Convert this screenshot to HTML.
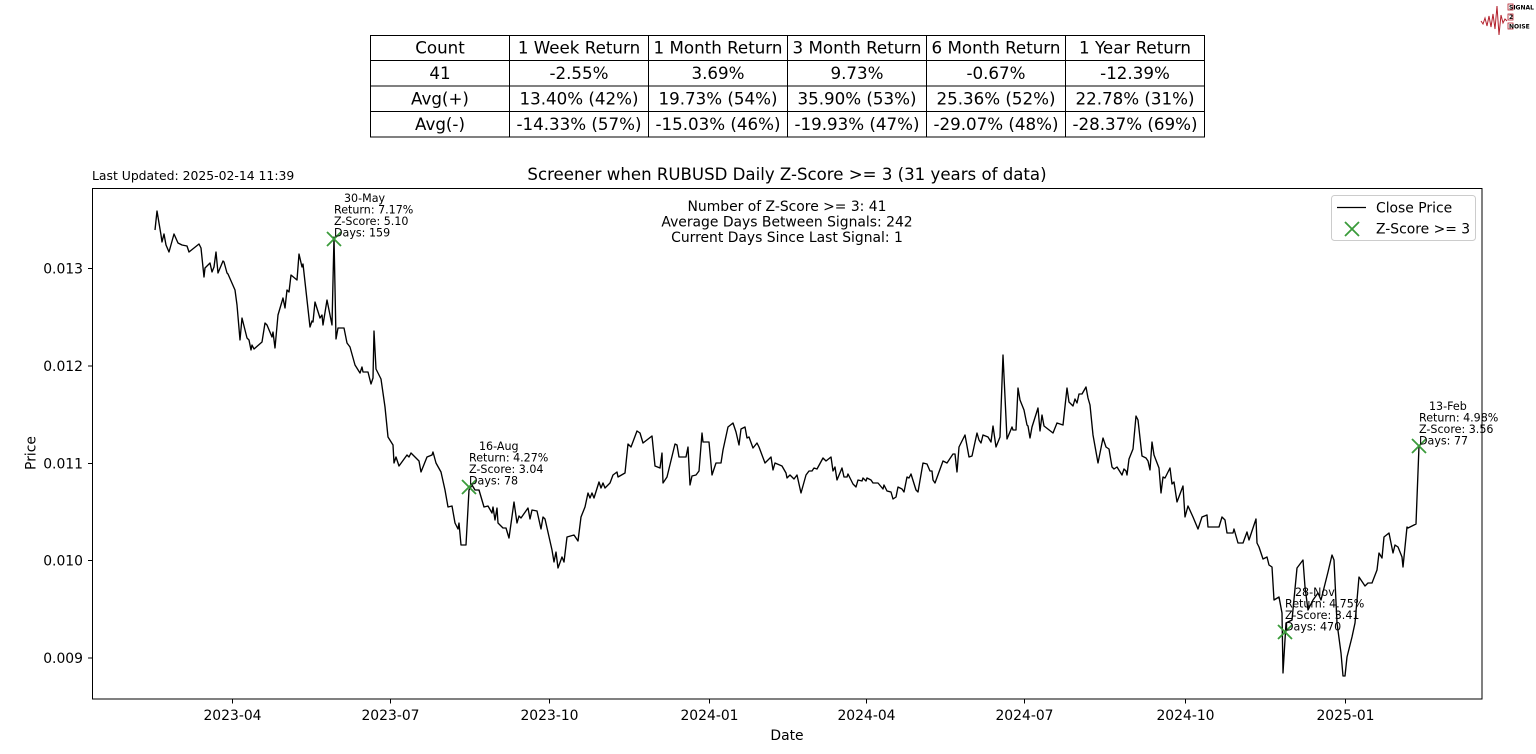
<!DOCTYPE html>
<html>
<head>
<meta charset="utf-8">
<style>
html,body{margin:0;padding:0;background:#fff;}
svg{display:block;}
text{font-family:"DejaVu Sans","Liberation Sans",sans-serif;fill:#000;}
</style>
</head>
<body>
<svg width="1536" height="754" viewBox="0 0 1536 754" xmlns="http://www.w3.org/2000/svg">
<rect x="0" y="0" width="1536" height="754" fill="#fff"/>

<!-- Logo -->
<polyline points="1481,21 1483,24 1485,18 1487,26 1489,16 1491,27 1493,14 1495,29 1497,6 1499,35 1501,15 1503,23 1505,19 1507,21" fill="none" stroke="#b3202c" stroke-width="1"/>
<rect x="1508" y="4" width="5" height="6" fill="none" stroke="#b3202c" stroke-width="0.8"/>
<rect x="1508" y="14" width="5" height="6" fill="none" stroke="#b3202c" stroke-width="0.8"/>
<rect x="1508" y="23" width="5" height="6" fill="none" stroke="#b3202c" stroke-width="0.8"/>
<text x="1509" y="9.5" font-size="6" font-weight="bold" fill="#333">SIGNAL</text>
<text x="1509" y="19" font-size="6" font-weight="bold" fill="#333">2</text>
<text x="1509" y="28.5" font-size="6" font-weight="bold" fill="#333">NOISE</text>

<!-- Table -->
<g stroke="#000" stroke-width="1" fill="none">
<rect x="370.5" y="35.5" width="834" height="101.5"/>
<line x1="370" y1="60.5" x2="1204" y2="60.5"/>
<line x1="370" y1="86" x2="1204" y2="86"/>
<line x1="370" y1="111.5" x2="1204" y2="111.5"/>
<line x1="509.5" y1="35" x2="509.5" y2="137"/>
<line x1="648.5" y1="35" x2="648.5" y2="137"/>
<line x1="787.5" y1="35" x2="787.5" y2="137"/>
<line x1="926.5" y1="35" x2="926.5" y2="137"/>
<line x1="1065.5" y1="35" x2="1065.5" y2="137"/>
</g>
<g font-size="16.7" text-anchor="middle">
<text x="440" y="53.5">Count</text>
<text x="579" y="53.5">1 Week Return</text>
<text x="718" y="53.5">1 Month Return</text>
<text x="857" y="53.5">3 Month Return</text>
<text x="996" y="53.5">6 Month Return</text>
<text x="1135" y="53.5">1 Year Return</text>
<text x="440" y="79">41</text>
<text x="579" y="79">-2.55%</text>
<text x="718" y="79">3.69%</text>
<text x="857" y="79">9.73%</text>
<text x="996" y="79">-0.67%</text>
<text x="1135" y="79">-12.39%</text>
<text x="440" y="104.5">Avg(+)</text>
<text x="579" y="104.5">13.40% (42%)</text>
<text x="718" y="104.5">19.73% (54%)</text>
<text x="857" y="104.5">35.90% (53%)</text>
<text x="996" y="104.5">25.36% (52%)</text>
<text x="1135" y="104.5">22.78% (31%)</text>
<text x="440" y="130">Avg(-)</text>
<text x="579" y="130">-14.33% (57%)</text>
<text x="718" y="130">-15.03% (46%)</text>
<text x="857" y="130">-19.93% (47%)</text>
<text x="996" y="130">-29.07% (48%)</text>
<text x="1135" y="130">-28.37% (69%)</text>
</g>

<!-- Titles -->
<text x="92" y="180" font-size="12.4">Last Updated: 2025-02-14 11:39</text>
<text x="787" y="180" font-size="16.6" text-anchor="middle">Screener when RUBUSD Daily Z-Score &gt;= 3 (31 years of data)</text>

<!-- Axes frame -->
<rect x="92.5" y="188.5" width="1389.5" height="510.5" fill="none" stroke="#000" stroke-width="1"/>

<!-- Y ticks -->
<g stroke="#000" stroke-width="1">
<line x1="88" y1="268.5" x2="92" y2="268.5"/>
<line x1="88" y1="366" x2="92" y2="366"/>
<line x1="88" y1="463.5" x2="92" y2="463.5"/>
<line x1="88" y1="560.5" x2="92" y2="560.5"/>
<line x1="88" y1="658" x2="92" y2="658"/>
</g>
<g font-size="13.9" text-anchor="end">
<text x="83" y="273.5">0.013</text>
<text x="83" y="371">0.012</text>
<text x="83" y="468.5">0.011</text>
<text x="83" y="565.5">0.010</text>
<text x="83" y="663">0.009</text>
</g>

<!-- X ticks -->
<g stroke="#000" stroke-width="1">
<line x1="232.5" y1="699" x2="232.5" y2="703.5"/>
<line x1="390.5" y1="699" x2="390.5" y2="703.5"/>
<line x1="549.5" y1="699" x2="549.5" y2="703.5"/>
<line x1="709.5" y1="699" x2="709.5" y2="703.5"/>
<line x1="866.5" y1="699" x2="866.5" y2="703.5"/>
<line x1="1024.5" y1="699" x2="1024.5" y2="703.5"/>
<line x1="1185.5" y1="699" x2="1185.5" y2="703.5"/>
<line x1="1345.5" y1="699" x2="1345.5" y2="703.5"/>
</g>
<g font-size="13.9" text-anchor="middle">
<text x="232.5" y="720">2023-04</text>
<text x="390.5" y="720">2023-07</text>
<text x="549.5" y="720">2023-10</text>
<text x="709.5" y="720">2024-01</text>
<text x="866.5" y="720">2024-04</text>
<text x="1024.5" y="720">2024-07</text>
<text x="1185.5" y="720">2024-10</text>
<text x="1345.5" y="720">2025-01</text>
</g>
<text x="787" y="740" font-size="13.9" text-anchor="middle">Date</text>
<text x="0" y="0" font-size="13.9" text-anchor="middle" transform="translate(35.5,453) rotate(-90)">Price</text>

<!-- Stats text -->
<g font-size="13.9" text-anchor="middle">
<text x="787" y="211">Number of Z-Score &gt;= 3: 41</text>
<text x="787" y="226.5">Average Days Between Signals: 242</text>
<text x="787" y="242">Current Days Since Last Signal: 1</text>
</g>

<!-- Price line -->
<polyline fill="none" stroke="#000" stroke-width="1.35" stroke-linejoin="round" points="
155,230 157,211 161,235 162,242 164,234 166,245 169,252 174,234 178,243 182,245 187,246 189,252 199,244 201,248 204,277 205,268 210,263 212,272 214,267 216,252 218,273 223,261 224,262 227,273 228,274 235,290 237,305 240,340 242,318 247,338 249,340 251,350 252,345 254,349 262,342 265,323 267,325 272,337 273,332 275,348 278,315 283,298 285,308 287,290 289,292 291,275 297,280 299,254 302,267 303,264 310,327 312,321 313,322 315,302 320,318 322,315 323,325 327,300 332,325 334,237 336,339 338,328 344,328 347,343 350,347 355,365 360,373 362,367 363,372 368,372 371,384 373,378 374,331 376,369 381,379 383,393 385,407 388,437 393,445 394,463 396,457 399,466 407,455 409,457 411,453 419,461 421,472 427,457 432,455 433,452 436,463 441,472 445,490 448,507 452,506 455,523 458,529 459,523 461,545 466,545 469,490 472,485 475,490 479,490 484,507 488,506 492,513 493,507 495,520 497,508 498,523 503,528 506,528 509,538 514,502 517,523 519,516 521,518 528,508 530,519 532,510 537,511 541,529 543,517 545,519 552,550 554,562 556,552 558,568 562,557 564,562 567,537 574,535 578,541 581,517 585,507 588,493 590,498 592,493 594,498 599,482 601,488 603,483 605,488 610,483 613,475 617,472 618,477 625,473 628,444 631,447 637,431 640,433 643,443 652,436 655,466 660,468 662,453 663,483 667,477 675,444 677,445 679,457 686,457 688,447 690,485 692,476 696,475 699,471 702,433 703,442 709,442 712,475 716,463 721,463 723,450 728,427 733,423 736,432 739,445 741,429 745,427 747,438 749,437 753,448 757,443 759,447 765,463 771,457 773,470 775,463 782,466 786,473 787,478 790,475 794,479 797,475 801,493 806,475 809,471 812,471 814,468 817,469 823,458 826,461 831,457 833,471 835,467 837,480 842,468 844,477 847,477 848,474 853,484 856,487 858,480 862,481 863,478 866,481 867,478 871,480 873,483 878,483 883,489 884,485 887,491 891,492 893,499 896,497 898,487 902,489 904,492 907,477 909,478 911,474 916,490 918,492 923,463 927,464 930,471 932,471 933,480 935,483 943,461 947,463 953,454 955,454 957,472 959,447 965,435 969,457 972,456 977,433 979,440 981,443 983,435 988,437 991,442 993,426 996,447 1000,437 1003,355 1007,439 1012,427 1013,430 1016,430 1018,388 1020,400 1024,410 1027,425 1028,426 1030,438 1032,427 1038,408 1040,431 1042,415 1044,426 1053,433 1057,423 1063,425 1067,388 1069,402 1073,406 1075,399 1077,403 1079,394 1082,394 1086,387 1088,398 1090,405 1093,435 1098,463 1103,438 1106,447 1109,449 1112,467 1114,469 1117,467 1122,475 1124,469 1126,471 1127,475 1129,459 1133,449 1136,416 1138,420 1139,429 1142,456 1146,458 1148,461 1150,470 1152,442 1154,455 1159,468 1161,493 1163,477 1165,478 1170,468 1172,484 1174,482 1177,502 1183,486 1185,517 1188,506 1193,517 1198,529 1202,517 1207,515 1208,527 1219,527 1222,517 1225,520 1227,533 1233,533 1234,529 1238,543 1243,543 1247,532 1249,540 1256,519 1257,543 1259,547 1263,559 1267,557 1269,565 1272,567 1274,600 1279,597 1282,613 1283,673 1286,623 1292,620 1297,568 1303,560 1305,587 1308,610 1313,600 1318,593 1321,600 1328,572 1332,555 1334,560 1337,623 1341,653 1343,676 1345,676 1347,657 1352,637 1355,623 1359,577 1365,586 1368,583 1372,583 1377,570 1379,553 1382,558 1384,537 1389,533 1393,553 1395,545 1398,547 1402,557 1403,567 1407,527 1408,528 1416,524 1419,446"/>

<!-- Markers -->
<g stroke="#3a9b3a" stroke-width="1.8">
<path d="M327,232 L341,246 M341,232 L327,246"/>
<path d="M462,480 L476,494 M476,480 L462,494"/>
<path d="M1278,625 L1292,639 M1292,625 L1278,639"/>
<path d="M1412,439 L1426,453 M1426,439 L1412,453"/>
</g>

<!-- Annotations -->
<g font-size="11.1">
<text x="344" y="202">30-May</text>
<text x="334" y="213.5">Return: 7.17%</text>
<text x="334" y="225">Z-Score: 5.10</text>
<text x="334" y="236.5">Days: 159</text>

<text x="479" y="450">16-Aug</text>
<text x="469" y="461.5">Return: 4.27%</text>
<text x="469" y="473">Z-Score: 3.04</text>
<text x="469" y="484.5">Days: 78</text>

<text x="1295" y="596">28-Nov</text>
<text x="1285" y="607.5">Return: 4.75%</text>
<text x="1285" y="619">Z-Score: 3.41</text>
<text x="1285" y="630.5">Days: 470</text>

<text x="1429" y="410">13-Feb</text>
<text x="1419" y="421.5">Return: 4.98%</text>
<text x="1419" y="433">Z-Score: 3.56</text>
<text x="1419" y="444.5">Days: 77</text>
</g>

<!-- Legend -->
<rect x="1331.5" y="195.5" width="144" height="45" rx="3" ry="3" fill="#fff" fill-opacity="0.8" stroke="#cccccc" stroke-width="1"/>
<line x1="1337" y1="207.5" x2="1366" y2="207.5" stroke="#000" stroke-width="1.35"/>
<text x="1376" y="212.5" font-size="13.9">Close Price</text>
<path d="M1345,222 L1359,236 M1359,222 L1345,236" stroke="#3a9b3a" stroke-width="1.8"/>
<text x="1376" y="233.5" font-size="13.9">Z-Score &gt;= 3</text>
</svg>
</body>
</html>
